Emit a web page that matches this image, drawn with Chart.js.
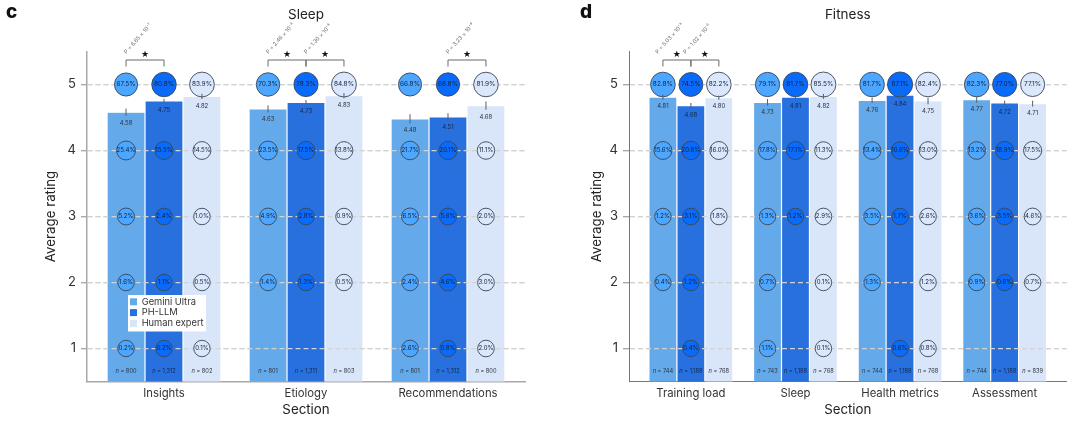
<!DOCTYPE html>
<html>
<head>
<meta charset="utf-8">
<title>Sleep and fitness ratings</title>
<script src="https://cdn.jsdelivr.net/npm/chart.js@4"></script>
<style>
    html, body { margin: 0; padding: 0; background: #fff; }
    #sleepChart { position: absolute; left: 0; top: 0; }
    #fitnessChart { position: absolute; left: 540px; top: 0; }
</style>
</head>
<body>
<canvas id="sleepChart" width="540" height="423"></canvas>
<canvas id="fitnessChart" width="540" height="423"></canvas>
<script>
// shared labels
var seriesNames = ['Gemini Ultra', 'PH-LLM', 'Human expert'];
var ratingTicks = [1, 2, 3, 4, 5];

// panel c, sleep
var sleepSections = ['Insights', 'Etiology', 'Recommendations'];
var sleepMeanGemini = [4.58, 4.63, 4.48];
var sleepMeanPh = [4.75, 4.73, 4.51];
var sleepMeanHuman = [4.82, 4.83, 4.68];
var sleepErrGemini = [0.055, 0.055, 0.07];
var sleepErrPh = [0.033, 0.035, 0.056];
var sleepErrHuman = [0.04, 0.04, 0.063];
var sleepNGemini = [800, 801, 801];
var sleepNPh = [1312, 1311, 1312];
var sleepNHuman = [802, 803, 800];
// percent of answers per rating, rows are rating 5 down to 1
var sleepPctGemini = [[67.5, 70.3, 66.8], [25.4, 23.5, 21.7], [5.2, 4.9, 6.5], [1.6, 1.4, 2.4], [0.2, null, 2.6]];
var sleepPctPh = [[80.8, 78.3, 68.8], [15.5, 17.5, 20.1], [2.4, 2.8, 5.6], [1.1, 1.3, 4.6], [0.2, null, 0.8]];
var sleepPctHuman = [[83.9, 84.8, 81.9], [14.5, 13.8, 11.1], [1.0, 0.9, 2.0], [0.5, 0.5, 3.0], [0.1, null, 2.0]];
var sleepPValues = [
    [0, 0, 1, 'P = 6.65 × 10⁻⁷'],
    [1, 0, 1, 'P = 2.46 × 10⁻³'],
    [1, 1, 2, 'P = 1.30 × 10⁻⁴'],
    [2, 1, 2, 'P = 3.23 × 10⁻⁶']
];

// panel d, fitness
var fitnessSections = ['Training load', 'Sleep', 'Health metrics', 'Assessment'];
var fitnessMeanGemini = [4.81, 4.73, 4.76, 4.77];
var fitnessMeanPh = [4.68, 4.81, 4.84, 4.72];
var fitnessMeanHuman = [4.80, 4.82, 4.75, 4.71];
var fitnessErrGemini = [0.04, 0.05, 0.043, 0.045];
var fitnessErrPh = [0.04, 0.028, 0.038, 0.035];
var fitnessErrHuman = [0.03, 0.038, 0.05, 0.045];
var fitnessNGemini = [744, 743, 744, 744];
var fitnessNPh = [1188, 1188, 1188, 1188];
var fitnessNHuman = [768, 768, 768, 839];
var fitnessPctGemini = [[82.8, 79.1, 81.7, 82.3], [15.6, 17.8, 13.4, 13.2], [1.2, 1.3, 3.5, 3.6], [0.4, 0.7, 1.3, 0.9], [null, 1.1, null, null]];
var fitnessPctPh = [[74.5, 81.7, 87.1, 77.0], [20.8, 17.1, 10.6, 18.9], [3.1, 1.2, 1.7, 3.5], [1.2, null, null, 0.6], [0.4, null, 0.6, null]];
var fitnessPctHuman = [[82.2, 85.5, 82.4, 77.1], [16.0, 11.3, 13.0, 17.5], [1.8, 2.9, 2.6, 4.6], [null, 0.1, 1.2, 0.7], [null, 0.1, 0.8, null]];
var fitnessPValues = [
    [0, 0, 1, 'P = 5.03 × 10⁻³'],
    [0, 1, 2, 'P = 1.02 × 10⁻²']
];

var barColors = ['#64a9e9', '#2770dd', '#d9e5f8'];
var circleColors = ['#4da6ff', '#0a6bfa', '#dbe7fc'];
var fontName = 'Inter, sans-serif';
var groupShare = 0.802;

function barOffset(seriesIndex) {
    return (seriesIndex - 1) * groupShare / 3;
}

function circleData(rows, seriesIndex) {
    var points = [];
    rows.forEach(function (row, r) {
        row.forEach(function (pct, i) {
            if (pct === null) return;
            points.push({ x: i + barOffset(seriesIndex), y: 5 - r, r: 8.2 + pct * 0.05, pct: pct });
        });
    });
    return points;
}

function text(ctx, str, x, y, size, color, align) {
    ctx.font = size + 'px ' + fontName;
    ctx.fillStyle = color;
    ctx.textAlign = align || 'center';
    ctx.textBaseline = 'middle';
    ctx.fillText(str, x, y);
}

// the overlay plugin draws what Chart.js has no element for
function overlayPlugin(p) {
    return {
        id: 'overlay',
        afterDatasetDraw: function (chart, args) {
            // dashed grid goes over the bars but under the circles
            if (args.index === 0) {
                chart.scales.y.drawGrid(chart.chartArea);
            }
        },
        afterDatasetsDraw: function (chart) {
            var ctx = chart.ctx;
            var xs = chart.scales.x;
            var ys = chart.scales.y;
            ctx.save();

            // percent inside each circle
            chart.data.datasets.forEach(function (ds, d) {
                if (ds.type !== 'bubble') return;
                chart.getDatasetMeta(d).data.forEach(function (el, i) {
                    var item = ds.data[i];
                    text(ctx, item.pct.toFixed(1) + '%', el.x, el.y, item.y === 5 ? 6.5 : 6.1, '#14213a');
                });
            });

            // error ticks, means and n labels
            p.means.forEach(function (means, s) {
                means.forEach(function (m, i) {
                    var x = xs.getPixelForValue(i + barOffset(s));
                    var top = ys.getPixelForValue(m + p.errs[s][i]);
                    var bottom = ys.getPixelForValue(m - p.errs[s][i]);
                    ctx.strokeStyle = '#5a5f68';
                    ctx.lineWidth = 1;
                    ctx.beginPath();
                    ctx.moveTo(x, top);
                    ctx.lineTo(x, bottom);
                    ctx.stroke();
                    text(ctx, m.toFixed(2), x, bottom + 7, 6, s === 1 ? '#14294d' : '#2f3540');

                    var count = p.counts[s][i].toLocaleString('en-US');
                    var yn = ys.getPixelForValue(0.5) - 9.8;
                    var color = s === 1 ? '#14294d' : '#2f3540';
                    ctx.font = 'italic 5.7px ' + fontName;
                    var w1 = ctx.measureText('n').width;
                    ctx.font = '5.7px ' + fontName;
                    var rest = ' = ' + count;
                    var w2 = ctx.measureText(rest).width;
                    ctx.font = 'italic 5.7px ' + fontName;
                    ctx.fillStyle = color;
                    ctx.textAlign = 'left';
                    ctx.textBaseline = 'middle';
                    ctx.fillText('n', x - (w1 + w2) / 2, yn);
                    text(ctx, rest, x - (w1 + w2) / 2 + w1, yn, 5.7, color, 'left');
                });
            });

            // significance brackets
            var brTop = ys.getPixelForValue(5) - 24.5;
            p.pValues.forEach(function (b) {
                var x1 = xs.getPixelForValue(b[0] + barOffset(b[1]));
                var x2 = xs.getPixelForValue(b[0] + barOffset(b[2]));
                ctx.strokeStyle = '#6b6b6b';
                ctx.lineWidth = 1;
                ctx.beginPath();
                ctx.moveTo(x1, brTop + 6.5);
                ctx.lineTo(x1, brTop);
                ctx.lineTo(x2, brTop);
                ctx.lineTo(x2, brTop + 6.5);
                ctx.stroke();

                ctx.font = '9px "DejaVu Sans"';
                ctx.fillStyle = '#111';
                ctx.textAlign = 'center';
                ctx.textBaseline = 'middle';
                ctx.fillText('★', (x1 + x2) / 2, brTop - 5.5);

                ctx.save();
                ctx.translate(x1 + p.pShift, brTop - 7);
                ctx.rotate(-48 * Math.PI / 180);
                text(ctx, b[3], 0, 0, 5.5, '#6e6e6e', 'left');
                ctx.restore();
            });

            // panel letter
            ctx.font = '800 19px ' + fontName;
            ctx.fillStyle = '#111';
            ctx.textAlign = 'left';
            ctx.textBaseline = 'alphabetic';
            ctx.fillText(p.letter, p.letterX, 18);

            // legend sits on top of the first group in panel c
            if (p.legend) {
                ctx.fillStyle = '#fff';
                ctx.fillRect(128, 295, 78, 36.5);
                seriesNames.forEach(function (name, s) {
                    var y = 301.8 + s * 10.8;
                    ctx.fillStyle = barColors[s];
                    ctx.fillRect(130, y - 3.5, 7, 7);
                    text(ctx, name, 141.7, y, 9.3, '#333', 'left');
                });
            }
            ctx.restore();
        }
    };
}

function makePanel(p) {
    var datasets = [];
    p.means.forEach(function (means, s) {
        datasets.push({
            type: 'bar',
            label: seriesNames[s],
            order: 2,
            data: means.map(function (m, i) { return { x: i, y: m }; }),
            backgroundColor: barColors[s],
            borderColor: 'rgba(255,255,255,0.45)',
            borderWidth: 0.6,
            barPercentage: 1,
            categoryPercentage: groupShare
        });
    });
    p.pcts.forEach(function (rows, s) {
        datasets.push({
            type: 'bubble',
            label: seriesNames[s] + ' share',
            order: 1,
            data: circleData(rows, s),
            backgroundColor: circleColors[s],
            borderColor: '#3a4656',
            borderWidth: 0.9
        });
    });

    new Chart(document.getElementById(p.canvas), {
        data: { datasets: datasets },
        plugins: [overlayPlugin(p)],
        options: {
            responsive: false,
            animation: false,
            layout: { padding: { left: 0, right: p.rightPad, top: 0, bottom: 0 } },
            plugins: {
                legend: { display: false },
                tooltip: { enabled: false },
                title: {
                    display: true,
                    fullSize: false,
                    text: p.title,
                    color: '#222',
                    font: { family: fontName, size: 13.5, weight: '400', lineHeight: 1.2 },
                    padding: { top: 7, bottom: 28.3 }
                }
            },
            scales: {
                x: {
                    type: 'linear',
                    offset: false,
                    min: p.xMin,
                    max: p.xMax,
                    afterBuildTicks: function (s) {
                        s.ticks = p.sections.map(function (name, i) { return { value: i }; });
                    },
                    afterFit: function (s) { s.height = 41.5; },
                    grid: { offset: false, drawOnChartArea: false, drawTicks: false },
                    border: { color: p.axisColor, width: p.axisWidth },
                    ticks: {
                        autoSkip: false,
                        maxRotation: 0,
                        padding: 5,
                        color: '#333',
                        font: { family: fontName, size: 11.3 },
                        callback: function (v) { return p.sections[v]; }
                    },
                    title: {
                        display: true,
                        text: 'Section',
                        color: '#222',
                        font: { family: fontName, size: 13.3 },
                        padding: { top: 0, bottom: 5 }
                    }
                },
                y: {
                    min: 0.5,
                    max: 5.5,
                    afterBuildTicks: function (s) {
                        s.ticks = ratingTicks.map(function (v) { return { value: v }; });
                    },
                    afterFit: function (s) { s.width = p.leftPad; },
                    grid: {
                        color: '#d2d2d2',
                        lineWidth: 1.2,
                        tickLength: 6,
                        tickColor: '#a8a8a8',
                        tickBorderDash: []
                    },
                    border: { color: p.axisColor, width: p.axisWidth, dash: [5, 3] },
                    ticks: {
                        padding: 5,
                        color: '#333',
                        font: { family: fontName, size: 13 },
                        callback: function (v) { return String(v); }
                    },
                    title: {
                        display: true,
                        text: 'Average rating',
                        color: '#222',
                        font: { family: fontName, size: 13.3 },
                        padding: { top: p.yTitleTop, bottom: 0 }
                    }
                }
            }
        }
    });
}

makePanel({
    canvas: 'sleepChart',
    title: 'Sleep',
    letter: 'c',
    letterX: 6,
    legend: true,
    sections: sleepSections,
    means: [sleepMeanGemini, sleepMeanPh, sleepMeanHuman],
    errs: [sleepErrGemini, sleepErrPh, sleepErrHuman],
    counts: [sleepNGemini, sleepNPh, sleepNHuman],
    pcts: [sleepPctGemini, sleepPctPh, sleepPctHuman],
    pValues: sleepPValues,
    pShift: -1,
    leftPad: 87,
    rightPad: 15,
    yTitleTop: 43,
    xMin: -0.5423,
    xMax: 2.5423,
    axisColor: '#a8a8a8',
    axisWidth: 1.5
});

makePanel({
    canvas: 'fitnessChart',
    title: 'Fitness',
    letter: 'd',
    letterX: 40,
    legend: false,
    sections: fitnessSections,
    means: [fitnessMeanGemini, fitnessMeanPh, fitnessMeanHuman],
    errs: [fitnessErrGemini, fitnessErrPh, fitnessErrHuman],
    counts: [fitnessNGemini, fitnessNPh, fitnessNHuman],
    pcts: [fitnessPctGemini, fitnessPctPh, fitnessPctHuman],
    pValues: fitnessPValues,
    pShift: -6.5,
    leftPad: 89,
    rightPad: 13,
    yTitleTop: 49,
    xMin: -0.5917,
    xMax: 3.5917,
    axisColor: '#777',
    axisWidth: 1
});
</script>
</body>
</html>
